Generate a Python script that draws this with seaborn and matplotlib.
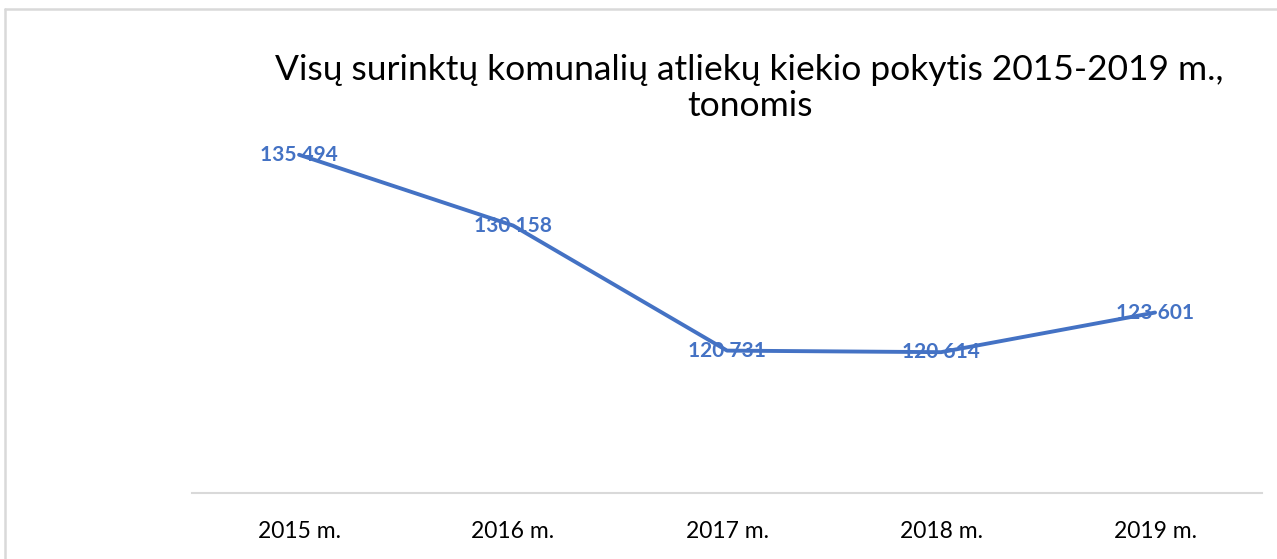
import matplotlib
matplotlib.use("Agg")
import matplotlib.pyplot as plt
import seaborn as sns
import pandas as pd
from matplotlib.lines import Line2D

years = ["2015 m.", "2016 m.", "2017 m.", "2018 m.", "2019 m."]
kiekis = [135494, 130158, 120731, 120614, 123601]
title = "Visų surinktų komunalių atliekų kiekio pokytis 2015-2019 m.,\ntonomis"

sns.set_style("white")
plt.rcParams['font.family'] = ['Lato', 'DejaVu Sans']

blue = "#4472C4"
df = pd.DataFrame({"metai": years, "kiekis": kiekis})

fig = plt.figure(figsize=(12.77, 5.59), dpi=100)
ax = fig.add_axes([0.1504, 0.1181, 0.8379, 0.712])

sns.lineplot(data=df, x="metai", y="kiekis", sort=False, color=blue,
             linewidth=2.8, ax=ax)

for i, v in enumerate(kiekis):
    lab = f"{v:,}".replace(",", " ")
    ax.text(i, v, lab, ha="center", va="center", color=blue,
            fontsize=15, fontweight="bold", zorder=5)

ax.set_xlim(-0.5, 4.5)
ax.set_ylim(110000, 140000)
ax.set_xlabel("")
ax.set_ylabel("")
ax.set_yticks([])
ax.tick_params(axis="x", length=0, labelsize=16.5, pad=20, colors="#000000")
for s in ["top", "right", "left"]:
    ax.spines[s].set_visible(False)
ax.spines["bottom"].set_color("#d9d9d9")
ax.spines["bottom"].set_linewidth(1.5)

fig.text(0.587, 0.843, title, ha="center", va="center", fontsize=25.5,
         color="#000000", linespacing=1.15)

# light frame around the chart
fig.add_artist(Line2D([0.004, 0.004], [0.0, 0.984], color="#d9d9d9", lw=1.8,
                      transform=fig.transFigure))
fig.add_artist(Line2D([0.004, 1.0], [0.984, 0.984], color="#d9d9d9", lw=1.8,
                      transform=fig.transFigure))

fig.savefig("out.png", dpi=100)
